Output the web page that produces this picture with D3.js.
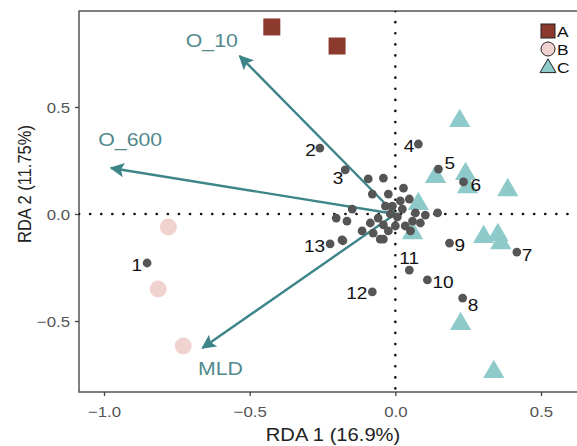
<!DOCTYPE html>
<html>
<head>
<meta charset="utf-8">
<script src="https://cdn.jsdelivr.net/npm/d3@7"></script>
<style>
  html, body { margin: 0; padding: 0; background: #fff; }
  svg { display: block; font-family: "Liberation Sans", Arial, sans-serif; }
</style>
</head>
<body>
<svg id="chart" width="577" height="446"></svg>
<script>
// Site scores by group (RDA 1, RDA 2)
const groupNames = ["A", "B", "C"];
const sitesA = [[-0.424, 0.874], [-0.200, 0.785]];
const sitesB = [[-0.779, -0.061], [-0.814, -0.350], [-0.728, -0.617]];
const sitesC = [
  [0.221, 0.435], [0.138, 0.173], [0.241, 0.187], [0.248, 0.126],
  [0.386, 0.112], [0.079, 0.047], [0.059, -0.089], [0.303, -0.107],
  [0.352, -0.098], [0.362, -0.136], [0.224, -0.514], [0.338, -0.738]
];

// Environmental vectors
const envNames = ["O_10", "O_600", "MLD"];
const envX = [-0.534, -0.976, -0.662];
const envY = [0.738, 0.215, -0.626];

// Numbered species scores
const speciesIds = ["1","2","3","4","5","6","7","8","9","10","11","12","13"];
const speciesX = [-0.852, -0.259, -0.172, 0.079, 0.148, 0.234, 0.417, 0.231, 0.186, 0.110, 0.048, -0.079, -0.224];
const speciesY = [-0.229, 0.308, 0.206, 0.327, 0.210, 0.150, -0.178, -0.393, -0.136, -0.308, -0.262, -0.364, -0.140];

// Remaining (unlabelled) species scores
const otherSpecies = [
  [-0.093, 0.164], [-0.041, 0.168], [0.028, 0.121], [-0.079, 0.093],
  [-0.024, 0.093], [0.048, 0.070], [-0.148, 0.023], [-0.203, -0.019],
  [-0.166, -0.033], [-0.114, -0.079], [-0.183, -0.121], [0.145, 0.005],
  [-0.052, -0.117], [-0.076, -0.089], [-0.041, -0.051], [-0.059, -0.019],
  [-0.017, 0.000], [0.007, -0.014], [0.024, 0.023], [0.059, -0.033],
  [0.086, -0.042], [0.103, -0.005], [0.069, 0.005], [-0.010, 0.037],
  [-0.034, 0.037], [0.000, -0.056], [0.034, -0.056], [-0.024, -0.079],
  [0.017, 0.061], [0.052, -0.079], [-0.086, -0.042], [-0.041, -0.117],
  [-0.180, -0.125]
];

// Tick values
const xTicks = [-1.0, -0.5, 0.0, 0.5];
const yTicks = [-0.5, 0.0, 0.5];

const svg = d3.select("#chart");
const panel = { left: 79, top: 11, right: 590, bottom: 392 };
const WIDEN = 1.12;   // horizontal widening of all lettering

const x = d3.scaleLinear().domain([-1.0, 0.5]).range([104, 541]);
const y = d3.scaleLinear().domain([-0.5, 0.5]).range([321, 107]);

const colA = "#8c3a2e", colB = "#f0d3cf", colC = "#8fcaca";
const arrowCol = "#3e858a", envTextCol = "#51898d";

// place a text at (px, py), widened horizontally around its anchor
function placeText(sel, px, py) {
  return sel.attr("x", 0).attr("y", 0)
    .attr("transform", `translate(${px},${py}) scale(${WIDEN},1)`);
}

// Panel frame
svg.append("rect")
  .attr("x", panel.left).attr("y", panel.top)
  .attr("width", panel.right - panel.left).attr("height", panel.bottom - panel.top)
  .attr("fill", "#fff").attr("stroke", "#555").attr("stroke-width", 1.5);

svg.append("clipPath").attr("id", "pclip").append("rect")
  .attr("x", panel.left).attr("y", panel.top)
  .attr("width", panel.right - panel.left).attr("height", panel.bottom - panel.top);

const g = svg.append("g").attr("clip-path", "url(#pclip)");

// Zero reference lines
g.append("line")
  .attr("x1", panel.left).attr("x2", panel.right)
  .attr("y1", y(0)).attr("y2", y(0))
  .attr("stroke", "#111").attr("stroke-width", 2.6)
  .attr("stroke-dasharray", "0.1,11").attr("stroke-linecap", "round");
g.append("line")
  .attr("x1", x(0)).attr("x2", x(0))
  .attr("y1", panel.top).attr("y2", panel.bottom)
  .attr("stroke", "#111").attr("stroke-width", 2.6)
  .attr("stroke-dasharray", "0.1,11").attr("stroke-linecap", "round");

// Axes
const xAxis = d3.axisBottom(x).tickValues(xTicks).tickFormat(d3.format(".1f")).tickSize(4).tickSizeOuter(0);
const yAxis = d3.axisLeft(y).tickValues(yTicks).tickFormat(d3.format(".1f")).tickSize(4).tickSizeOuter(0);

const gx = svg.append("g").attr("transform", `translate(0,${panel.bottom})`).call(xAxis);
const gy = svg.append("g").attr("transform", `translate(${panel.left},0)`).call(yAxis);
[gx, gy].forEach(a => {
  a.select(".domain").remove();
  a.selectAll(".tick line").attr("stroke", "#444").attr("stroke-width", 1.3);
  a.selectAll(".tick text").attr("fill", "#555").attr("font-size", 15)
    .attr("font-family", "Liberation Sans, Arial, sans-serif");
});
gx.selectAll(".tick text").attr("y", 0).attr("dy", 0)
  .attr("dominant-baseline", "central")
  .attr("transform", `translate(0,20) scale(${WIDEN},1)`);
gy.selectAll(".tick text").attr("x", 0).attr("dy", 0)
  .attr("dominant-baseline", "central")
  .attr("transform", `translate(-9,0) scale(${WIDEN},1)`);

placeText(svg.append("text"), 333, 441)
  .attr("text-anchor", "middle").attr("font-size", 18).attr("fill", "#222")
  .text("RDA 1 (16.9%)");
svg.append("text")
  .attr("transform", `translate(31,184) scale(${WIDEN},1) rotate(-90)`)
  .attr("text-anchor", "middle").attr("font-size", 16.5).attr("fill", "#222")
  .text("RDA 2 (11.75%)");

// Group sites
const sq = 17;
g.selectAll("rect.siteA").data(sitesA).join("rect").attr("class", "siteA")
  .attr("x", d => x(d[0]) - sq / 2).attr("y", d => y(d[1]) - sq / 2)
  .attr("width", sq).attr("height", sq).attr("fill", colA);
g.selectAll("circle.siteB").data(sitesB).join("circle").attr("class", "siteB")
  .attr("cx", d => x(d[0])).attr("cy", d => y(d[1])).attr("r", 8.5).attr("fill", colB);
const tri = d3.symbol().type(d3.symbolTriangle).size(195);
g.selectAll("path.siteC").data(sitesC).join("path").attr("class", "siteC")
  .attr("transform", d => `translate(${x(d[0])},${y(d[1])})`)
  .attr("d", tri).attr("fill", colC);

// Environmental arrows
const defs = svg.append("defs");
defs.append("marker")
  .attr("id", "ahead").attr("viewBox", "0 0 10 10")
  .attr("refX", 9).attr("refY", 5)
  .attr("markerWidth", 7).attr("markerHeight", 6)
  .attr("markerUnits", "strokeWidth")
  .attr("orient", "auto")
  .append("path").attr("d", "M0,0 L10,5 L0,10 L2,5 Z").attr("fill", arrowCol);

envNames.forEach((name, i) => {
  g.append("line")
    .attr("x1", x(0)).attr("y1", y(0))
    .attr("x2", x(envX[i])).attr("y2", y(envY[i]))
    .attr("stroke", arrowCol).attr("stroke-width", 2.4)
    .attr("marker-end", "url(#ahead)");
});
const envLabelPos = [[-0.63, 0.81], [-0.91, 0.35], [-0.60, -0.72]];
envNames.forEach((name, i) => {
  placeText(g.append("text"), x(envLabelPos[i][0]), y(envLabelPos[i][1]))
    .attr("text-anchor", "middle").attr("dominant-baseline", "central")
    .attr("font-size", 19).attr("fill", envTextCol)
    .text(name);
});

// Species points
const speciesCol = "#555555";
g.selectAll("circle.other").data(otherSpecies).join("circle").attr("class", "other")
  .attr("cx", d => x(d[0])).attr("cy", d => y(d[1])).attr("r", 4.4).attr("fill", speciesCol);
g.selectAll("circle.sp").data(speciesIds).join("circle").attr("class", "sp")
  .attr("cx", (d, i) => x(speciesX[i])).attr("cy", (d, i) => y(speciesY[i]))
  .attr("r", 4.4).attr("fill", speciesCol);

// Label placement: [dx, dy, anchor]
const labelPlace = {
  "1": [-5, 8, "end"], "2": [-4, 8, "end"], "3": [-2, 14, "end"],
  "4": [-4, 8, "end"], "5": [6, 0, "start"], "6": [7, 9, "start"],
  "7": [5, 9, "start"], "8": [5, 13, "start"], "9": [5, 8, "start"],
  "10": [5, 8, "start"], "11": [-10, -6, "start"], "12": [-5, 7, "end"],
  "13": [-5, 8, "end"]
};
speciesIds.forEach((id, i) => {
  const p = labelPlace[id];
  placeText(g.append("text"), x(speciesX[i]) + p[0], y(speciesY[i]) + p[1])
    .attr("text-anchor", p[2]).attr("font-size", 17).attr("fill", "#111")
    .text(id);
});

// Legend
const legend = svg.append("g").attr("transform", "translate(548,31)");
const legendRowGap = 18;
const legendFills = [colA, colB, colC];
groupNames.forEach((name, i) => {
  const row = legend.append("g").attr("transform", `translate(0,${i * legendRowGap})`);
  if (i === 0) {
    row.append("rect").attr("x", -7).attr("y", -7).attr("width", 14).attr("height", 14)
      .attr("fill", legendFills[i]).attr("stroke", "#222").attr("stroke-width", 1);
  } else if (i === 1) {
    row.append("circle").attr("r", 7).attr("fill", legendFills[i])
      .attr("stroke", "#222").attr("stroke-width", 1);
  } else {
    row.append("path").attr("d", d3.symbol().type(d3.symbolTriangle).size(110))
      .attr("transform", "translate(0,1)")
      .attr("fill", legendFills[i]).attr("stroke", "#222").attr("stroke-width", 1);
  }
  placeText(row.append("text"), 9, 0)
    .attr("dominant-baseline", "central").attr("font-size", 15.5).attr("fill", "#111")
    .text(name);
});
</script>
</body>
</html>
